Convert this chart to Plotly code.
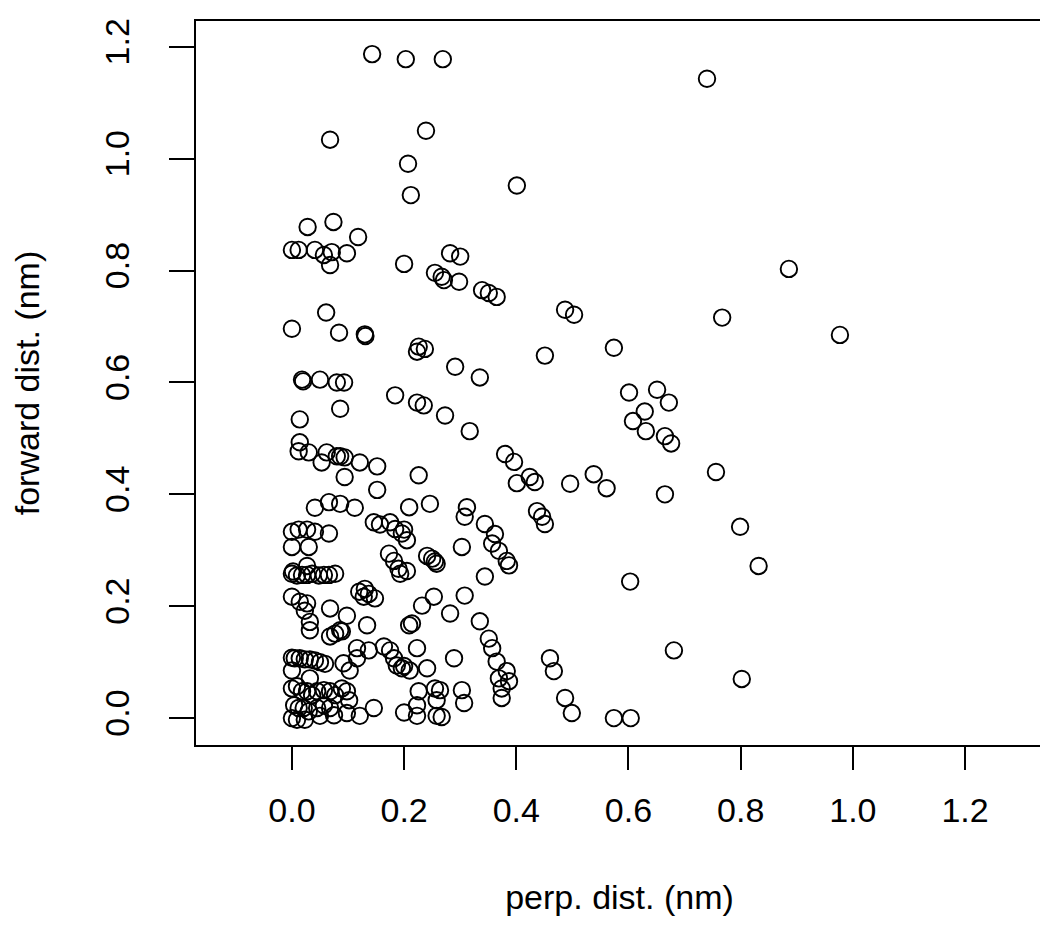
import plotly.graph_objects as go

# perpendicular distance (nm)
perp_dist = [
    0.143, 0.203, 0.269, 0.740,
    0.239, 0.068, 0.207, 0.212, 0.401,
    0.028, 0.074, 0.118,
    0.000, 0.012, 0.041, 0.057, 0.071, 0.098, 0.068,
    0.200, 0.282, 0.300,
    0.255, 0.267, 0.271, 0.298,
    0.339, 0.351, 0.365,
    0.886,
    0.487, 0.503, 0.767,
    0.061, 0.000, 0.084, 0.130, 0.131, 0.977,
    0.226, 0.237, 0.223,
    0.574, 0.451, 0.291, 0.335,
    0.018, 0.020, 0.050, 0.080, 0.093,
    0.601, 0.651, 0.672, 0.629, 0.608, 0.631, 0.665, 0.676,
    0.184, 0.223, 0.235, 0.086, 0.273, 0.014, 0.317,
    0.014, 0.012, 0.030,
    0.062, 0.080, 0.086, 0.094, 0.053, 0.121, 0.152, 0.094, 0.226,
    0.380, 0.396, 0.401, 0.424, 0.433, 0.496, 0.538, 0.561, 0.665, 0.756,
    0.152,
    0.041, 0.066, 0.086, 0.112,
    0.209, 0.246, 0.312, 0.308,
    0.437, 0.446, 0.451,
    0.799,
    0.146, 0.157, 0.175, 0.184, 0.196, 0.200, 0.205,
    0.344, 0.362, 0.357, 0.369, 0.383, 0.387,
    0.000, 0.012, 0.027, 0.041, 0.066, 0.000, 0.030,
    0.303,
    0.173, 0.182, 0.190, 0.193, 0.205,
    0.241, 0.250, 0.255, 0.258,
    0.832,
    0.000, 0.002, 0.009, 0.018, 0.027, 0.036, 0.048, 0.057, 0.066, 0.077, 0.027,
    0.344, 0.603,
    0.000, 0.014, 0.027, 0.023, 0.032, 0.032,
    0.120, 0.130, 0.137, 0.148, 0.128,
    0.068, 0.098, 0.134,
    0.253, 0.232, 0.308, 0.282, 0.214, 0.209, 0.335,
    0.068, 0.077, 0.086, 0.089,
    0.223,
    0.351, 0.357, 0.365, 0.383, 0.369, 0.387, 0.374, 0.374,
    0.000, 0.005, 0.014, 0.023, 0.032, 0.041, 0.050, 0.059, 0.000,
    0.092, 0.103, 0.116, 0.116, 0.137,
    0.164, 0.175, 0.182, 0.187, 0.196,
    0.289, 0.200, 0.210, 0.241,
    0.460, 0.467, 0.681, 0.802,
    0.032,
    0.000, 0.009, 0.018, 0.027, 0.036, 0.045, 0.057, 0.068, 0.077, 0.089, 0.098, 0.102,
    0.004, 0.012, 0.021, 0.030, 0.045, 0.057, 0.068,
    0.000, 0.009, 0.023, 0.050, 0.075, 0.098, 0.121, 0.146,
    0.200, 0.226, 0.223, 0.223,
    0.255, 0.264, 0.258, 0.258, 0.267,
    0.303, 0.307,
    0.487, 0.499, 0.574, 0.604,
]

# forward distance (nm)
forward_dist = [
    1.187, 1.178, 1.178, 1.143,
    1.050, 1.034, 0.991, 0.935, 0.952,
    0.878, 0.887, 0.860,
    0.837, 0.837, 0.837, 0.828, 0.833, 0.831, 0.810,
    0.812, 0.831, 0.825,
    0.796, 0.789, 0.783, 0.780,
    0.765, 0.760, 0.753,
    0.803,
    0.730, 0.721, 0.716,
    0.725, 0.696, 0.689, 0.686, 0.683, 0.685,
    0.664, 0.660, 0.655,
    0.662, 0.648, 0.628, 0.609,
    0.605, 0.602, 0.605, 0.600, 0.600,
    0.582, 0.587, 0.564, 0.548, 0.531, 0.513, 0.504, 0.491,
    0.577, 0.564, 0.559, 0.553, 0.541, 0.534, 0.513,
    0.493, 0.477, 0.475,
    0.475, 0.468, 0.468, 0.466, 0.457, 0.457, 0.450, 0.431, 0.434,
    0.472, 0.458, 0.420, 0.431, 0.422, 0.419, 0.436, 0.411, 0.400, 0.440,
    0.408,
    0.376, 0.386, 0.383, 0.376,
    0.377, 0.383, 0.377, 0.360,
    0.370, 0.360, 0.347,
    0.342,
    0.350, 0.346, 0.350, 0.338, 0.330, 0.337, 0.318,
    0.347, 0.329, 0.312, 0.299, 0.281, 0.273,
    0.333, 0.337, 0.337, 0.333, 0.330, 0.306, 0.306,
    0.306,
    0.294, 0.281, 0.267, 0.258, 0.263,
    0.290, 0.285, 0.280, 0.276,
    0.272,
    0.258, 0.262, 0.255, 0.256, 0.256, 0.258, 0.255, 0.256, 0.256, 0.258, 0.272,
    0.253, 0.244,
    0.217, 0.208, 0.205, 0.192, 0.172, 0.157,
    0.226, 0.231, 0.222, 0.214, 0.217,
    0.196, 0.183, 0.166,
    0.217, 0.201, 0.219, 0.187, 0.169, 0.166, 0.173,
    0.146, 0.151, 0.157, 0.155,
    0.125,
    0.142, 0.125, 0.101, 0.084, 0.071, 0.066, 0.053, 0.036,
    0.108, 0.107, 0.107, 0.105, 0.105, 0.103, 0.100, 0.097, 0.085,
    0.098, 0.085, 0.125, 0.107, 0.121,
    0.128, 0.121, 0.107, 0.094, 0.089,
    0.107, 0.093, 0.085, 0.089,
    0.107, 0.084, 0.121, 0.070,
    0.071,
    0.053, 0.057, 0.048, 0.048, 0.041, 0.048, 0.050, 0.048, 0.041, 0.053, 0.048, 0.032,
    0.023, 0.018, 0.018, 0.012, 0.018, 0.023, 0.018,
    0.000, -0.003, -0.003, 0.004, 0.005, 0.009, 0.004, 0.018,
    0.010, 0.048, 0.023, 0.004,
    0.053, 0.050, 0.032, 0.004, 0.002,
    0.050, 0.027,
    0.036, 0.009, 0.000, 0.000,
]

tick_vals = [0.0, 0.2, 0.4, 0.6, 0.8, 1.0, 1.2]
tick_text = ["0.0", "0.2", "0.4", "0.6", "0.8", "1.0", "1.2"]

FONT = "Liberation Sans, Arial, Helvetica, sans-serif"
FSIZE = 34

fig = go.Figure(
    go.Scatter(
        x=perp_dist,
        y=forward_dist,
        mode="markers",
        marker=dict(symbol="circle-open", size=16.5, color="black",
                    line=dict(width=1.9, color="black")),
        showlegend=False,
        hoverinfo="x+y",
    )
)

axis_common = dict(
    tickvals=tick_vals,
    ticktext=tick_text,
    ticks="outside",
    tickwidth=1.7,
    tickcolor="black",
    showline=True,
    linecolor="black",
    linewidth=1.7,
    mirror=True,
    showgrid=False,
    zeroline=False,
    tickfont=dict(family=FONT, size=FSIZE, color="black"),
)

fig.update_layout(
    width=1048,
    height=926,
    paper_bgcolor="white",
    plot_bgcolor="white",
    margin=dict(l=188, r=13, t=10, b=189),
    xaxis=dict(
        range=[-0.171, 1.339],
        ticklen=23,
        title=dict(text="perp. dist. (nm)", font=dict(family=FONT, size=FSIZE, color="black"), standoff=58),
        ticklabelstandoff=11,
        **axis_common,
    ),
    yaxis=dict(
        range=[-0.0481, 1.2462],
        ticklen=25,
        tickangle=-90,
        title=dict(text="forward dist. (nm)", font=dict(family=FONT, size=FSIZE, color="black"), standoff=48),
        ticklabelstandoff=27,
        **axis_common,
    ),
)

fig.write_html("out.html")
